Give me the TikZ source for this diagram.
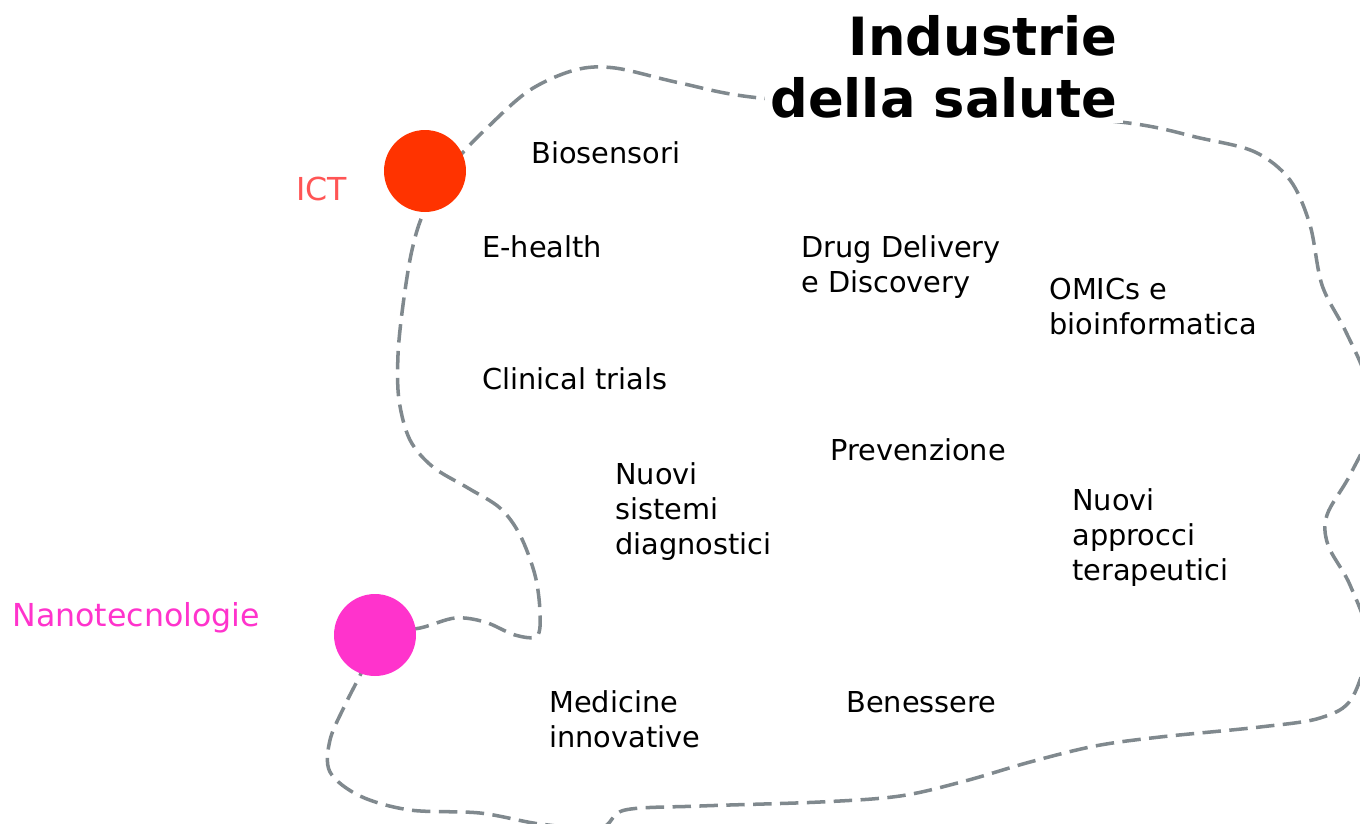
\documentclass[tikz,border=0pt]{standalone}
\usepackage{fontspec}
\setmainfont{DejaVu Sans}
\definecolor{blobgray}{RGB}{128,137,142}
\definecolor{ictred}{RGB}{255,51,0}
\definecolor{ictlabel}{RGB}{255,85,85}
\definecolor{nanopink}{RGB}{255,51,204}

\begin{document}
\begin{tikzpicture}[
  x=0.02cm,y=-0.02cm,
  blob/.style={blobgray,line width=2pt,dash pattern=on 10.5pt off 4.8pt},
  topic/.style={anchor=base west,inner sep=0pt,align=left,font=\fontsize{16.4}{19.9}\selectfont},
  hub/.style={circle,minimum size=1.64cm,inner sep=0pt},
  hublabel/.style={anchor=base west,inner sep=0pt,font=\fontsize{18}{21.6}\selectfont},
  heading/.style={anchor=base east,fill=white,inner sep=3pt,align=right,font=\bfseries\fontsize{30}{35.2}\selectfont}
]
  \useasboundingbox (0,0) rectangle (1360,823);
  \clip (0,0) rectangle (1360,823);

  \draw[blob] plot[smooth cycle,tension=0.55] coordinates {
    (455,162) (490,125) (530,90) (575,70) (615,68) (680,83) (760,98)
    (940,110) (1120,122) (1200,138) (1255,152) (1290,180) (1310,225)
    (1322,285) (1345,330) (1366,378) (1372,425) (1350,475) (1327,515)
    (1328,545) (1350,585) (1368,640) (1352,698) (1320,718) (1260,727)
    (1160,737) (1095,746) (1030,762) (965,781) (900,796) (820,802)
    (700,806) (625,810) (600,828) (540,824) (480,813) (410,810)
    (360,796) (330,772) (330,740) (345,705) (365,665) (375,635)
    (420,628) (455,618) (485,622) (515,635) (537,636) (540,612)
    (535,575) (520,535) (500,508) (468,488) (433,467) (410,440)
    (399,400) (398,355) (403,305) (412,250) (425,210)};

  \node[heading] (title) at (1123,117) {Industrie\\della salute};

  \node[hub,fill=ictred] (ict) at (425,171) {};
  \node[hub,fill=nanopink] (nano) at (375,635) {};
  \node[hublabel,text=ictlabel] (ictl) at (296,200) {ICT};
  \node[hublabel,text=nanopink] (nanol) at (12,626) {Nanotecnologie};

  \node[topic] (bio) at (531,163) {Biosensori};
  \node[topic] (ehealth) at (482,257) {E-health};
  \node[topic] (clin) at (482,389) {Clinical trials};
  \node[topic] (drug) at (801,292) {Drug Delivery\\e Discovery};
  \node[topic] (omics) at (1049,334) {OMICs e\\bioinformatica};
  \node[topic] (prev) at (830,460) {Prevenzione};
  \node[topic] (diag) at (615,554) {Nuovi\\sistemi\\diagnostici};
  \node[topic] (terap) at (1072,580) {Nuovi\\approcci\\terapeutici};
  \node[topic] (medic) at (549,747) {Medicine\\innovative};
  \node[topic] (benes) at (846,712) {Benessere};
\end{tikzpicture}
\end{document}
